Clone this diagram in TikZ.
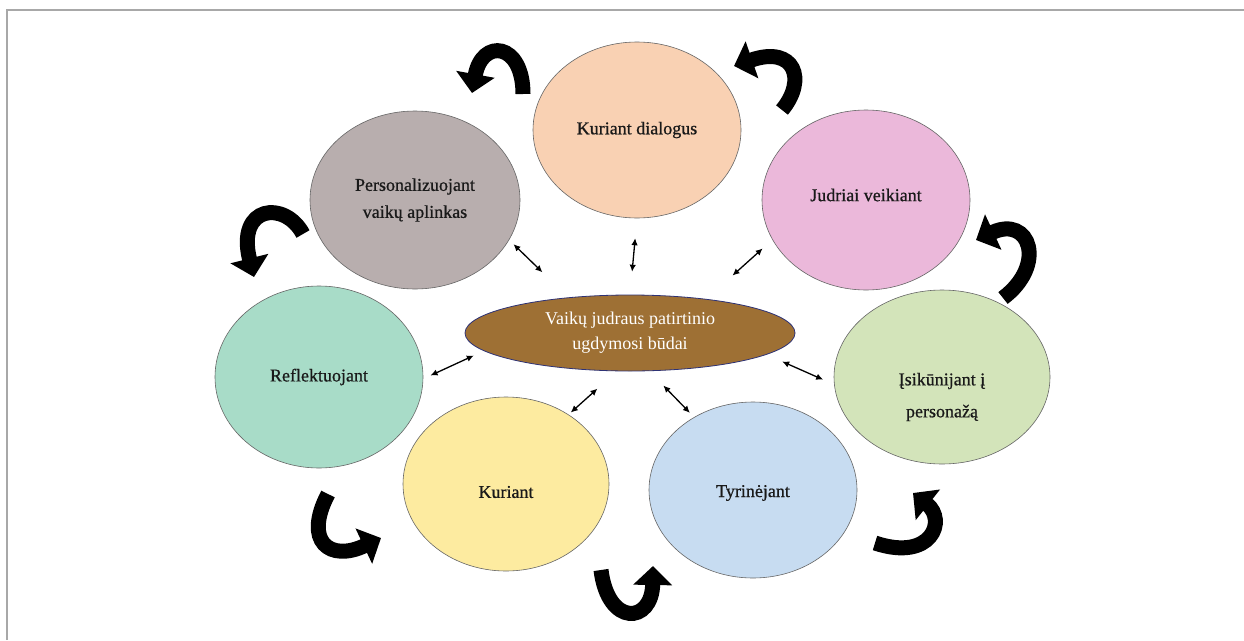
\documentclass[tikz,border=0pt]{standalone}
\usepackage{fontspec}
\setmainfont{Liberation Serif}
\newfontfamily\heavyserif{Liberation Serif}[FakeBold=0.7]
\usetikzlibrary{shapes.geometric,arrows.meta}
\definecolor{kdcol}{HTML}{F9D1B3}
\definecolor{pcol}{HTML}{B8AEAE}
\definecolor{jcol}{HTML}{EBB8DA}
\definecolor{rcol}{HTML}{A8DCC8}
\definecolor{icol}{HTML}{D3E4BA}
\definecolor{kcol}{HTML}{FDEBA0}
\definecolor{tcol}{HTML}{C7DCF1}
\definecolor{ccol}{HTML}{9E7034}
\definecolor{cborder}{HTML}{2E3275}
\definecolor{frame}{HTML}{A8A8A8}
\begin{document}
\begin{tikzpicture}[x=1pt,y=-1pt,
  oval/.style={ellipse, draw=black!60, line width=0.6pt, inner sep=0pt, align=center,
    font=\heavyserif\fontsize{18}{27}\selectfont, text=black!90},
  lbl/.style={align=center, font=\heavyserif\fontsize{18}{32}\selectfont, text=black!90},
  dbl/.style={{Latex[length=7pt,width=6.5pt]}-{Latex[length=7pt,width=6.5pt]}, line width=1.3pt},
  big/.style={line width=15pt, -{Triangle[length=19pt,width=38pt]}}]
\useasboundingbox (0,0) rectangle (1244,640);
\fill[white] (0,0) rectangle (1244,640);
\draw[frame, line width=1.5pt] (7,640) -- (7,10) -- (1244,10);

% outer ellipses
\node[oval, fill=kdcol, minimum width=208pt, minimum height=176pt] (kd) at (637,130) {Kuriant dialogus};
\node[oval, fill=pcol, minimum width=210pt, minimum height=178pt] (p) at (415,200) {Personalizuojant\\vaikų aplinkas};
\node[oval, fill=jcol, minimum width=208pt, minimum height=180pt] (j) at (866,200) {};
\node[lbl] at (866,195) {Judriai veikiant};
\node[oval, fill=rcol, minimum width=208pt, minimum height=182pt] (r) at (319,377) {Reflektuojant};
\node[oval, fill=icol, minimum width=216pt, minimum height=174pt] (i) at (942,377) {};
\node[lbl] at (942,397) {Įsikūnijant į\\personažą};
\node[oval, fill=kcol, minimum width=206pt, minimum height=174pt] (k) at (506,484) {};
\node[lbl] at (506,492) {Kuriant};
\node[oval, fill=tcol, minimum width=208pt, minimum height=176pt] (t) at (753,490) {};
\node[lbl] at (753,493) {Tyrinėjant};

% centre
\node[ellipse, draw=cborder, line width=0.8pt, fill=ccol, minimum width=330pt, minimum height=76pt,
  inner sep=0pt, align=center, text=white, font=\fontsize{18}{25}\selectfont] (c) at (630,333)
  {Vaikų judraus patirtinio\\ugdymosi būdai};

% double arrows
\draw[dbl, shorten <=20pt, shorten >=23pt] (kd.south) -- (c.north);
\draw[dbl, shorten <=6pt, shorten >=36pt] (p.-23.5) -- (c.150);
\draw[dbl, shorten <=13pt, shorten >=35pt] (j.203) -- (c.24);
\draw[dbl, shorten <=8pt, shorten >=11pt] (r.-1) -- (c.187);
\draw[dbl, shorten <=12pt, shorten >=17pt] (i.184) -- (c.-9.6);
\draw[dbl, shorten <=3pt, shorten >=26pt] (k.48) -- (c.251);
\draw[dbl, shorten <=6pt, shorten >=20pt] (t.129) -- (c.-63);

% big curved arrows (counter-clockwise cycle)
\draw[big] (523,94) .. controls (523,42) and (482,38) .. (472,93);
\draw[big] (782,110) .. controls (807,80) and (795,45) .. (734,66);
\draw[big] (303,234) .. controls (285,200) and (236,205) .. (254,277);
\draw[big] (1003,298) .. controls (1047,265) and (1030,215) .. (976,240);
\draw[big] (328,494) .. controls (303,542) and (330,562) .. (381,538);
\draw[big] (601,570) .. controls (608,627) and (652,624) .. (653,566);
\draw[big] (875,543) .. controls (932,562) and (947,520) .. (913,493);
\end{tikzpicture}
\end{document}
